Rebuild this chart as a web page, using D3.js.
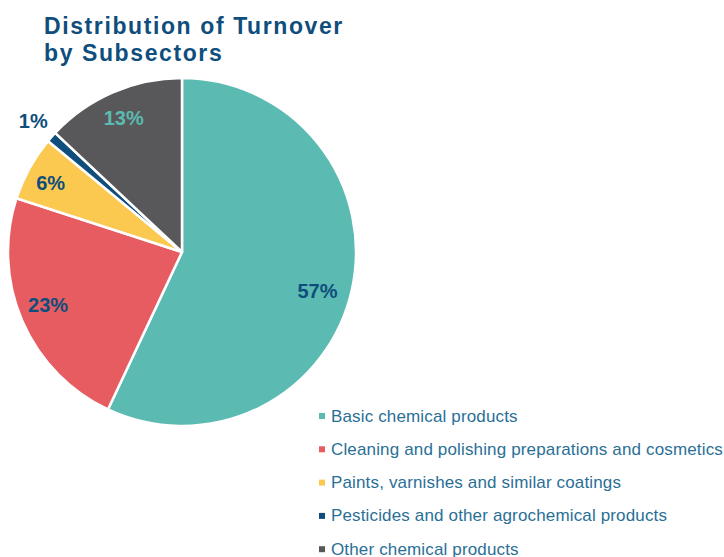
<!DOCTYPE html>
<html>
<head>
<meta charset="utf-8">
<script src="https://cdn.jsdelivr.net/npm/d3@7"></script>
<style>
  html, body { margin: 0; padding: 0; background: #ffffff; }
  svg { display: block; }
</style>
</head>
<body>
<svg id="chart" width="724" height="557"></svg>
<script>
// Turnover share by subsector (%)
const categories = [
  "Basic chemical products",
  "Cleaning and polishing preparations and cosmetics",
  "Paints, varnishes and similar coatings",
  "Pesticides and other agrochemical products",
  "Other chemical products"
];
const shares = [57, 23, 6, 1, 13];
const colors = ["#5bbab1", "#e65c61", "#fbc850", "#0f4e7c", "#58585a"];
const labelColors = ["#0f4e7c", "#0f4e7c", "#0f4e7c", "#0f4e7c", "#5bbab1"];

const svg = d3.select("#chart");
const cx = 182, cy = 252, r = 174;

// Title
const title = svg.append("text")
  .attr("font-family", "Liberation Sans, Arial, sans-serif")
  .attr("font-weight", "bold")
  .attr("font-size", 23)
  .attr("letter-spacing", 1.6)
  .attr("fill", "#0f4e7c");
title.append("tspan").attr("x", 44).attr("y", 34).text("Distribution of Turnover");
title.append("tspan").attr("x", 44).attr("y", 61).text("by Subsectors");

// Pie
const pie = d3.pie().sort(null).value(d => d.v);
const data = categories.map((c, i) => ({ c, v: shares[i], i }));
const arcs = pie(data);
const arc = d3.arc().innerRadius(0).outerRadius(r);

const g = svg.append("g").attr("transform", `translate(${cx},${cy})`);
g.selectAll("path.slice")
  .data(arcs)
  .enter().append("path")
  .attr("class", "slice")
  .attr("d", arc)
  .attr("fill", d => colors[d.data.i])
  .attr("stroke", "#ffffff")
  .attr("stroke-width", 2.5)
  .attr("stroke-linejoin", "round");

// Percentage labels: radial factor and small angular nudge (degrees) per slice;
// the thin pesticides slice gets its label outside the pie
const labelRadius = [0.81, 0.828, 0.853, 1.14, 0.843];
const labelTurn = [3.5, 1.8, -1.1, 0, 0];
g.selectAll("text.pct")
  .data(arcs)
  .enter().append("text")
  .attr("class", "pct")
  .attr("transform", d => {
    const a = (d.startAngle + d.endAngle) / 2 + labelTurn[d.data.i] * Math.PI / 180;
    const rr = r * labelRadius[d.data.i];
    return `translate(${Math.sin(a) * rr},${-Math.cos(a) * rr})`;
  })
  .attr("text-anchor", "middle")
  .attr("dy", "0.36em")
  .attr("font-family", "Liberation Sans, Arial, sans-serif")
  .attr("font-weight", "bold")
  .attr("font-size", 20)
  .attr("fill", d => labelColors[d.data.i])
  .text(d => d.data.v + "%");

// Legend
const legend = svg.append("g").attr("transform", "translate(319,416)");
const rowH = 33.3;
const rows = legend.selectAll("g.row")
  .data(categories)
  .enter().append("g")
  .attr("class", "row")
  .attr("transform", (d, i) => `translate(0,${i * rowH})`);
rows.append("rect")
  .attr("x", 0).attr("y", -3)
  .attr("width", 6).attr("height", 6)
  .attr("fill", (d, i) => colors[i]);
rows.append("text")
  .attr("x", 12).attr("y", 0)
  .attr("dominant-baseline", "central")
  .attr("font-family", "Liberation Sans, Arial, sans-serif")
  .attr("font-size", 17)
  .attr("letter-spacing", 0.15)
  .attr("fill", "#2a6f96")
  .text(d => d);
</script>
</body>
</html>
